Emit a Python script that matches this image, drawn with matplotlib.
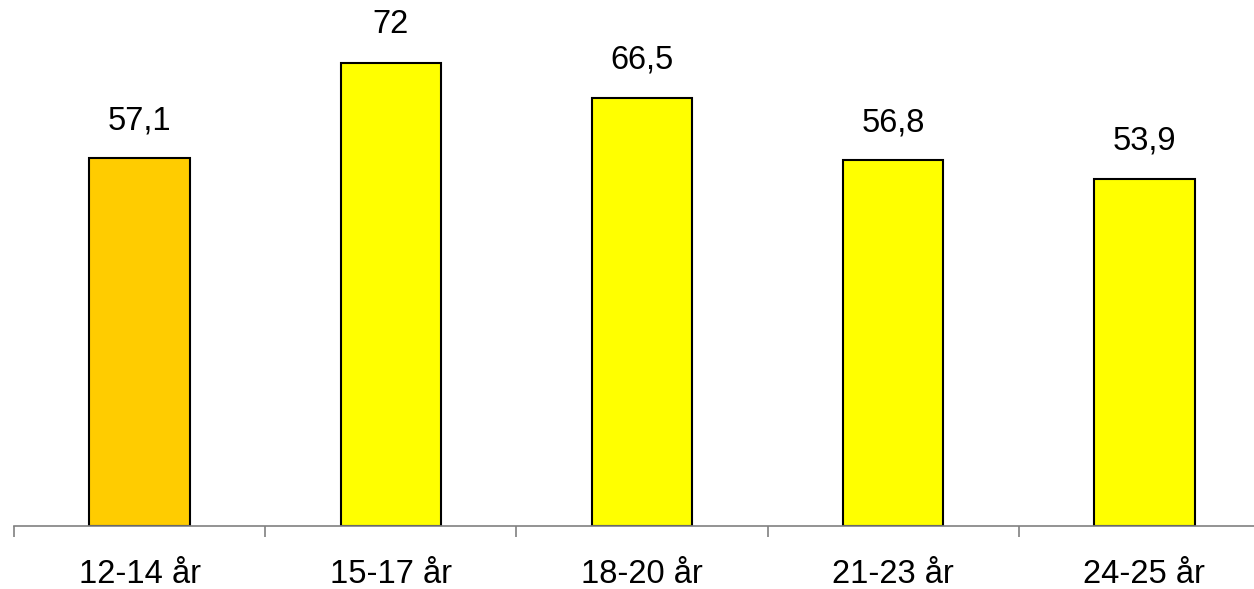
import matplotlib.pyplot as plt

categories = ["12-14 år", "15-17 år", "18-20 år", "21-23 år", "24-25 år"]
values = [57.1, 72, 66.5, 56.8, 53.9]
labels = ["57,1", "72", "66,5", "56,8", "53,9"]
colors = ["#FFCC00", "#FFFF00", "#FFFF00", "#FFFF00", "#FFFF00"]

W, H = 1254, 589
fig = plt.figure(figsize=(W / 100, H / 100), dpi=100)
plt.rcParams["font.family"] = ["Liberation Sans", "DejaVu Sans"]

# axes runs past the right edge of the figure, as in the reference
left, right, bottom = 14, 1270, H - 525.5
ax = fig.add_axes([left / W, bottom / H, (right - left) / W, (H - bottom) / H])

x = range(len(categories))
ax.bar(x, values, width=0.4, color=colors, edgecolor="black", linewidth=1.5, zorder=2)
for xi, v, lab in zip(x, values, labels):
    ax.annotate(lab, (xi, v), xytext=(0, 16), textcoords="offset points",
                ha="center", va="bottom", fontsize=23.5)

ax.set_xlim(-0.5, len(categories) - 0.5)
ax.set_ylim(0, 525.5 / 6.43)
for s in ("top", "right", "left"):
    ax.spines[s].set_visible(False)
ax.spines["bottom"].set_color("#808080")
ax.spines["bottom"].set_linewidth(1.2)
ax.set_yticks([])
ax.set_xticks([i - 0.5 for i in range(len(categories) + 1)])
ax.set_xticklabels([])
ax.set_xticks(list(x), minor=True)
ax.set_xticklabels(categories, minor=True, fontsize=23.5)
ax.tick_params(axis="x", which="major", length=8, width=1.2, color="#808080")
ax.tick_params(axis="x", which="minor", length=0, pad=24)

fig.savefig("out.png", dpi=100)
